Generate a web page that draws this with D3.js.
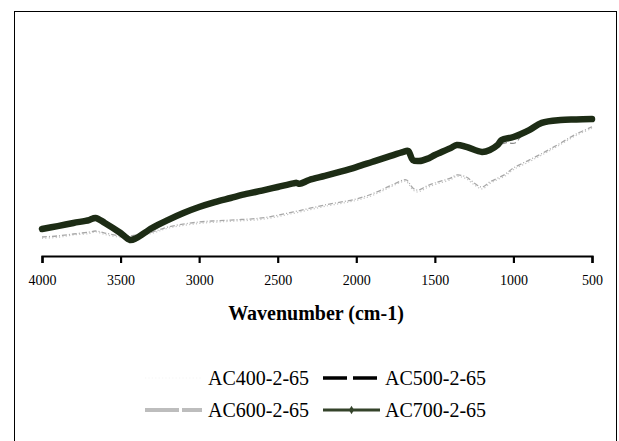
<!DOCTYPE html>
<html>
<head>
<meta charset="utf-8">
<script src="https://cdn.jsdelivr.net/npm/d3@7/dist/d3.min.js"></script>
<style>
  html, body { margin: 0; padding: 0; background: #fff; }
  svg { display: block; }
</style>
</head>
<body>
<svg id="chart" width="619" height="441"></svg>
<script>
// FTIR spectra of activated carbons (relative transmittance, arbitrary units)
const seriesNames = ["AC400-2-65", "AC500-2-65", "AC600-2-65", "AC700-2-65"];
const xTicks = [4000, 3500, 3000, 2500, 2000, 1500, 1000, 500];

const wn700 = [4000, 3900, 3800, 3700, 3660, 3600, 3500, 3440, 3400, 3300, 3200, 3100, 3000, 2900, 2800, 2700, 2600, 2500, 2400, 2380, 2360, 2300, 2200, 2100, 2000, 1900, 1800, 1700, 1670, 1640, 1600, 1550, 1500, 1400, 1360, 1300, 1200, 1150, 1100, 1075, 1000, 900, 820, 700, 600, 500];
const ac700 = [12.1, 13.3, 14.6, 15.8, 16.7, 14.6, 10.4, 7.5, 8.3, 12.5, 15.8, 18.75, 21.25, 23.3, 25.0, 26.7, 28.1, 29.6, 31.1, 31.3, 30.9, 32.5, 34.2, 36.0, 37.9, 40.0, 42.1, 44.2, 44.6, 40.8, 40.4, 41.3, 42.9, 45.8, 47.1, 46.3, 44.2, 45.0, 47.1, 49.2, 50.4, 53.3, 56.3, 57.5, 57.7, 57.9];

const wn500 = [4000, 3900, 3800, 3700, 3660, 3600, 3500, 3440, 3400, 3300, 3200, 3000, 2800, 2600, 2400, 2200, 2000, 1800, 1750, 1700, 1670, 1640, 1600, 1500, 1400, 1360, 1300, 1200, 1150, 1100, 1050, 990, 950, 900, 820, 700, 600, 500];
const ac500 = [12.0, 13.1, 14.4, 15.7, 16.6, 14.5, 10.3, 7.6, 8.4, 12.4, 15.7, 21.1, 24.9, 28.0, 31.1, 34.1, 37.8, 42.3, 43.6, 44.5, 44.8, 40.7, 40.3, 42.8, 45.7, 47.0, 46.2, 44.1, 44.9, 46.8, 48.0, 47.9, 50.8, 53.0, 56.0, 57.3, 57.5, 57.8];

const wn600 = [4000, 3900, 3800, 3700, 3660, 3600, 3500, 3440, 3300, 3200, 3000, 2800, 2600, 2400, 2200, 2000, 1900, 1800, 1700, 1680, 1640, 1610, 1550, 1500, 1400, 1360, 1300, 1250, 1200, 1150, 1100, 1050, 1000, 900, 800, 700, 600, 500];
const ac600 = [8.75, 9.2, 10.0, 10.8, 11.25, 10.4, 9.2, 9.2, 10.8, 12.9, 15.0, 15.8, 16.7, 19.2, 22.1, 24.6, 26.7, 29.6, 32.5, 32.5, 29.2, 28.3, 30.0, 31.25, 33.3, 34.6, 33.75, 31.25, 29.6, 31.7, 33.3, 35.0, 37.5, 40.8, 44.2, 47.9, 51.7, 54.6];

const wn400 = [4000, 3900, 3800, 3700, 3660, 3600, 3500, 3440, 3300, 3200, 3000, 2800, 2600, 2400, 2200, 2000, 1900, 1800, 1700, 1680, 1640, 1610, 1550, 1500, 1400, 1360, 1300, 1250, 1200, 1150, 1100, 1050, 1000, 900, 800, 700, 600, 500];
const ac400 = [8.2, 8.6, 9.6, 10.2, 10.9, 9.8, 8.7, 8.9, 10.3, 12.4, 14.4, 15.3, 16.1, 18.6, 21.5, 24.0, 26.0, 29.0, 31.9, 31.8, 28.4, 27.5, 29.3, 30.6, 32.6, 34.0, 33.0, 30.5, 28.8, 31.0, 32.7, 34.3, 36.8, 40.1, 43.6, 47.3, 51.1, 54.0];

const svg = d3.select("#chart");

// outer frame (runs past the bottom edge)
svg.append("rect")
  .attr("x", 14.5).attr("y", 11.5)
  .attr("width", 602).attr("height", 460)
  .attr("fill", "none").attr("stroke", "#000").attr("stroke-width", 1);

const x = d3.scaleLinear().domain([4000, 500]).range([42, 592]);
const y = d3.scaleLinear().domain([0, 100]).range([258, 18]);

const toPts = (ws, vs) => ws.map((w, i) => [w, vs[i]]);
const line = d3.line().x(d => x(d[0])).y(d => y(d[1])).curve(d3.curveCatmullRom.alpha(0.5));

const g = svg.append("g");

g.append("path").datum(toPts(wn400, ac400))
  .attr("d", line).attr("fill", "none")
  .attr("stroke", "#c4c4c4").attr("stroke-width", 1.2)
  .attr("stroke-dasharray", "1.2,2.2");

g.append("path").datum(toPts(wn600, ac600))
  .attr("d", line).attr("fill", "none")
  .attr("stroke", "#a8a8a8").attr("stroke-width", 1.3)
  .attr("stroke-dasharray", "5,2,1,2");

g.append("path").datum(toPts(wn500, ac500))
  .attr("d", line).attr("fill", "none")
  .attr("stroke", "#8a8a8a").attr("stroke-width", 1.2)
  .attr("stroke-dasharray", "6,3");

g.append("path").datum(toPts(wn700, ac700))
  .attr("d", line).attr("fill", "none")
  .attr("stroke", "#1d2c15").attr("stroke-width", 6.5)
  .attr("stroke-linejoin", "round").attr("stroke-linecap", "round");

// x axis
const axis = d3.axisBottom(x).tickValues(xTicks).tickSize(7).tickSizeOuter(7).tickFormat(d3.format("d"));
const ax = svg.append("g").attr("transform", "translate(0,256)").call(axis);
ax.select(".domain").attr("stroke", "#000").attr("stroke-width", 2.2);
ax.selectAll(".tick line").attr("stroke", "#000").attr("stroke-width", 2.2);
ax.selectAll(".tick text")
  .attr("y", 19)
  .attr("font-family", "'Liberation Serif', 'Times New Roman', serif")
  .attr("font-size", 14).attr("fill", "#000");

svg.append("text")
  .attr("x", 316).attr("y", 320)
  .attr("text-anchor", "middle")
  .attr("font-family", "'Liberation Serif', 'Times New Roman', serif")
  .attr("font-weight", "bold").attr("font-size", 20)
  .text("Wavenumber (cm-1)");

// legend
const legendItems = [
  { name: seriesNames[0], sx: 145, tx: 208, ly: 378, by: 385, stroke: "#f6f6f6", w: 1.2, dash: "1.2,2.2", marker: false },
  { name: seriesNames[1], sx: 323, tx: 385, ly: 378, by: 385, stroke: "#000", w: 3.5, dash: "24,6", marker: false },
  { name: seriesNames[2], sx: 145, tx: 208, ly: 410, by: 417, stroke: "#bdbdbd", w: 4, dash: "34,3", marker: false },
  { name: seriesNames[3], sx: 323, tx: 385, ly: 410, by: 417, stroke: "#34432a", w: 3, dash: null, marker: true }
];

const lg = svg.append("g");
legendItems.forEach(d => {
  lg.append("line")
    .attr("x1", d.sx).attr("x2", d.sx + 57)
    .attr("y1", d.ly).attr("y2", d.ly)
    .attr("stroke", d.stroke).attr("stroke-width", d.w)
    .attr("stroke-dasharray", d.dash);
  if (d.marker) {
    lg.append("path")
      .attr("d", d3.symbol().type(d3.symbolDiamond).size(22)())
      .attr("transform", `translate(${d.sx + 28.5},${d.ly})`)
      .attr("fill", "#34432a");
  }
  lg.append("text")
    .attr("x", d.tx).attr("y", d.by)
    .attr("font-family", "'Liberation Serif', 'Times New Roman', serif")
    .attr("font-size", 20).attr("fill", "#000")
    .text(d.name);
});
</script>
</body>
</html>
